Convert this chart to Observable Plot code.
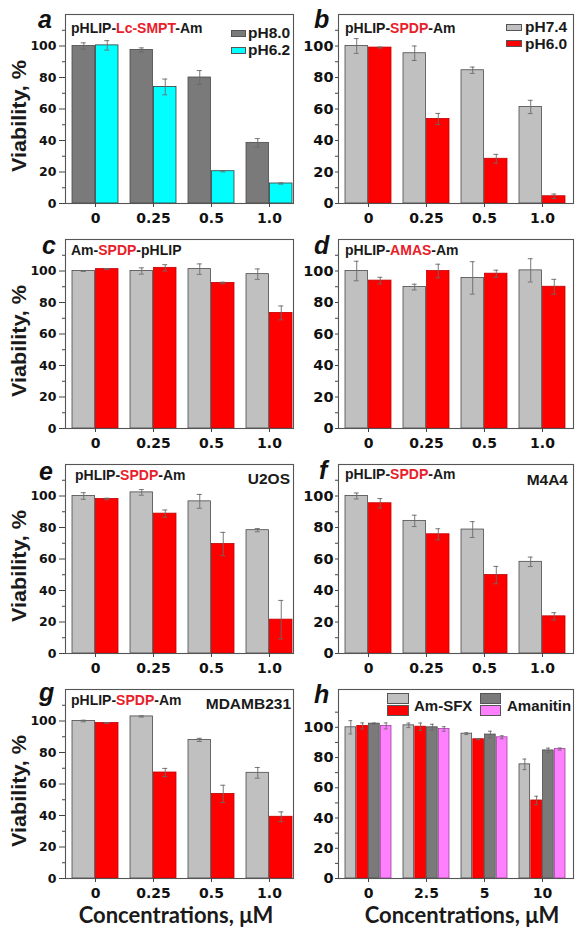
<!DOCTYPE html>
<html>
<head>
<meta charset="utf-8">
<script src="https://cdn.jsdelivr.net/npm/d3@7"></script>
<script src="https://cdn.jsdelivr.net/npm/@observablehq/plot@0.6"></script>
<style>
  body { margin: 0; background: #fff; }
  #fig { position: relative; width: 586px; height: 938px; overflow: hidden; background: #fff; }
  .ov { position: absolute; white-space: nowrap; line-height: 1; font-family: "Liberation Sans", Arial, sans-serif; font-weight: bold; color: #1a1a1a; }
  .sw { position: absolute; box-sizing: border-box; border: 1px solid #555; }
</style>
</head>
<body>
<div id="fig"></div>
<script>
// ---------------- data ----------------
const concA = ["0", "0.25", "0.5", "1.0"];
const concH = ["0", "2.5", "5", "10"];

// a: pHLIP-Lc-SMPT-Am
const aHigh = [100, 97.5, 80, 38.5];
const aHighErr = [2, 1.3, 4.4, 2.7];
const aLow = [100.4, 74, 20.5, 12.7];
const aLowErr = [3, 5, 0.4, 0.4];
// b: pHLIP-SPDP-Am
const bHigh = [100, 95.4, 84.6, 61.3];
const bHighErr = [4.7, 4.6, 2, 4.2];
const bLow = [99, 53.7, 28.4, 4.6];
const bLowErr = [0.3, 3.5, 2.8, 1.4];
// c: Am-SPDP-pHLIP
const cHigh = [100, 100, 101.2, 98];
const cHighErr = [0.3, 2, 3.3, 3.3];
const cLow = [101.2, 102, 92.4, 73.4];
const cLowErr = [0.3, 2, 0.5, 4.4];
// d: pHLIP-AMAS-Am
const dHigh = [100, 89.8, 95.6, 100.4];
const dHighErr = [6.2, 1.8, 10.3, 7.4];
const dLow = [93.9, 100, 98.3, 90];
const dLowErr = [2.1, 4.3, 2.2, 4.7];
// e: U2OS
const eHigh = [100, 102.3, 96.6, 78.3];
const eHighErr = [2.1, 1.8, 4.4, 1];
const eLow = [98.1, 88.8, 69.5, 21.5];
const eLowErr = [0.5, 2.3, 7.4, 12.2];
// f: M4A4
const fHigh = [100, 84.2, 78.7, 58.2];
const fHighErr = [1.9, 3.6, 5, 3];
const fLow = [95.4, 75.7, 49.8, 23.6];
const fLowErr = [3, 3.5, 5.5, 2.3];
// g: MDAMB231
const gHigh = [100, 102.9, 88, 67.1];
const gHighErr = [0.5, 0.4, 1, 3.4];
const gLow = [98.7, 67.3, 53.7, 39.2];
const gLowErr = [0.3, 2.6, 5.5, 3.1];
// h: Am-SFX vs Amanitin
const hSfxHigh = [100, 101.3, 95.8, 75.5];
const hSfxHighErr = [4.4, 1.5, 0.6, 3.5];
const hSfxLow = [100.9, 100.4, 92.1, 51.6];
const hSfxLowErr = [2, 2.4, 0.3, 2.8];
const hAmaHigh = [102.4, 100, 95.2, 84.7];
const hAmaHighErr = [0.5, 2, 2.2, 1.5];
const hAmaLow = [100.9, 98.9, 93.4, 85.6];
const hAmaLowErr = [2, 1.5, 1, 0.7];

const yMajor = [0, 20, 40, 60, 80, 100];
const yMinor = [10, 30, 50, 70, 90, 110];

const letters = ["a", "b", "c", "d", "e", "f", "g", "h"];
const titles = [
  ["pHLIP-", "Lc-SMPT", "-Am"],
  ["pHLIP-", "SPDP", "-Am"],
  ["Am-", "SPDP", "-pHLIP"],
  ["pHLIP-", "AMAS", "-Am"],
  ["pHLIP-", "SPDP", "-Am"],
  ["pHLIP-", "SPDP", "-Am"],
  ["pHLIP-", "SPDP", "-Am"],
  null
];
const cellLines = [null, null, null, null, "U2OS", "M4A4", "MDAMB231", null];
const legendA = ["pH8.0", "pH6.2"];
const legendB = ["pH7.4", "pH6.0"];
const legendH = ["Am-SFX", "Amanitin"];
const yLabel = "Viability, %";
const xLabel = "Concentrations, \u03BCM";

// ---------------- styles ----------------
const DARK = "#7a7a7a", LIGHT = "#c0c0c0", RED = "#ff0000", CYAN = "#00ffff", PINK = "#ff80ff";
const TITLE_RED = "#e8202a";

const fig = document.getElementById("fig");
const rowTop = [0, 225, 450, 675];
const colLeft = [0, 290];

function panel(idx, groups, series, yMax) {
  const col = idx % 2, row = Math.floor(idx / 2);
  const last = row === 3;
  const height = last ? 263 : 225;
  const marginBottom = last ? 60 : 22;
  const marginLeft = col === 0 ? 65 : 48;
  const marginRight = col === 0 ? 3 : 13;
  const range = col === 0 ? [71, 294] : [53, 277];
  const bw = d3.scaleBand().domain(groups).range(range).paddingInner(0.2).paddingOuter(0).bandwidth();
  const n = series.length;
  const sub = bw / n;
  const cap = n > 2 ? 5 : 6;
  const marks = [];
  series.forEach((s, i) => {
    const rows = groups.map((g, j) => ({g, v: s.v[j], e: s.e[j]}));
    marks.push(Plot.barY(rows, {x: "g", y: "v", fill: s.fill, stroke: s.stroke, strokeWidth: 0.8,
      insetLeft: i * sub, insetRight: (n - 1 - i) * sub}));
  });
  series.forEach((s, i) => {
    const rows = groups.map((g, j) => ({g, v: s.v[j], e: s.e[j]}));
    const cx = (i + 0.5) * sub;
    marks.push(Plot.ruleX(rows, {x: "g", y1: d => d.v - d.e, y2: d => d.v + d.e, dx: cx - bw / 2,
      stroke: "#6a6a6a", strokeWidth: 0.9}));
    for (const sign of [1, -1]) {
      marks.push(Plot.tickY(rows, {x: "g", y: d => d.v + sign * d.e, insetLeft: cx - cap / 2,
        insetRight: bw - cx - cap / 2, stroke: "#6a6a6a", strokeWidth: 0.9}));
    }
  });
  marks.push(Plot.frame({stroke: "#555", strokeWidth: 1.1}));
  marks.push(Plot.axisY(yMajor, {tickSize: col === 0 ? 6 : 3, tickPadding: col === 0 ? 3 : 2,
    fontSize: col === 0 ? 12.5 : 14.5, stroke: "#444", label: null}));
  marks.push(Plot.axisY(yMinor, {tickSize: 3, stroke: "#444", fill: "none", label: null}));
  marks.push(Plot.axisX({tickSize: 4, tickPadding: 6, fontSize: 14, stroke: "#444", label: null}));

  const svg = Plot.plot({
    width: 296, height, marginTop: 14, marginBottom, marginLeft, marginRight,
    x: {type: "band", domain: groups, range, paddingInner: 0.2, paddingOuter: 0},
    y: {domain: [0, yMax]},
    style: {fontFamily: "DejaVu Sans", fontWeight: "bold", color: "#111", background: "transparent", overflow: "visible"},
    marks
  });
  svg.style.position = "absolute";
  svg.style.left = colLeft[col] + "px";
  svg.style.top = rowTop[row] + "px";
  fig.appendChild(svg);
}

function text(str, opts) {
  const el = document.createElement("div");
  el.className = "ov";
  el.textContent = str;
  Object.assign(el.style, opts);
  fig.appendChild(el);
  return el;
}
function swatch(x, y, w, h, color) {
  const el = document.createElement("div");
  el.className = "sw";
  Object.assign(el.style, {left: x + "px", top: y + "px", width: w + "px", height: h + "px", background: color});
  fig.appendChild(el);
}

const two = (hi, hiE, lo, loE, hiFill, loFill) => [
  {v: hi, e: hiE, fill: hiFill, stroke: "#4a4a4a"},
  {v: lo, e: loE, fill: loFill, stroke: loFill === RED ? "#c00000" : "#3a3a3a"}
];

panel(0, concA, two(aHigh, aHighErr, aLow, aLowErr, DARK, CYAN), 120);
panel(1, concA, two(bHigh, bHighErr, bLow, bLowErr, LIGHT, RED), 120);
panel(2, concA, two(cHigh, cHighErr, cLow, cLowErr, LIGHT, RED), 120);
panel(3, concA, two(dHigh, dHighErr, dLow, dLowErr, LIGHT, RED), 120);
panel(4, concA, two(eHigh, eHighErr, eLow, eLowErr, LIGHT, RED), 120);
panel(5, concA, two(fHigh, fHighErr, fLow, fLowErr, LIGHT, RED), 120);
panel(6, concA, two(gHigh, gHighErr, gLow, gLowErr, LIGHT, RED), 120);
panel(7, concH, [
  {v: hSfxHigh, e: hSfxHighErr, fill: LIGHT, stroke: "#4a4a4a"},
  {v: hSfxLow, e: hSfxLowErr, fill: RED, stroke: "#c00000"},
  {v: hAmaHigh, e: hAmaHighErr, fill: DARK, stroke: "#4a4a4a"},
  {v: hAmaLow, e: hAmaLowErr, fill: PINK, stroke: "#a040a0"}
], 125);

// ---------------- overlays ----------------
const letterPos = [[38, 28], [314, 28], [42, 254], [314, 254], [39, 480], [319, 479], [39, 701], [314, 703]];
letters.forEach((l, i) => {
  const fs = 25;
  text(l, {left: letterPos[i][0] + "px", top: (letterPos[i][1] - 0.85 * fs) + "px", fontSize: fs + "px", fontStyle: "italic", color: "#111"});
});

const titlePos = [[71, 28], [345, 27.5], [71, 250], [345, 250], [75, 475], [345, 474], [71, 699.5]];
titles.forEach((t, i) => {
  if (!t) return;
  const el = text("", {left: titlePos[i][0] + "px", top: titlePos[i][1] + "px", fontSize: "14px", transform: "translateY(-50%)"});
  t.forEach((part, k) => {
    const s = document.createElement("span");
    s.textContent = part;
    if (k === 1) s.style.color = TITLE_RED;
    el.appendChild(s);
  });
});

const cellPos = [null, null, null, null, [290, 479], [568, 480], [291, 703.5], null];
cellLines.forEach((c, i) => {
  if (!c) return;
  text(c, {right: (586 - cellPos[i][0]) + "px", top: cellPos[i][1] + "px", fontSize: "15.5px", transform: "translateY(-50%)"});
});

// legends
swatch(231, 30, 15, 7, DARK); swatch(231, 47, 15, 7, CYAN);
text(legendA[0], {left: "248px", top: "33px", fontSize: "15.5px", transform: "translateY(-50%)"});
text(legendA[1], {left: "248px", top: "50px", fontSize: "15.5px", transform: "translateY(-50%)"});
swatch(506, 24, 16, 7, LIGHT); swatch(506, 40, 16, 7, RED);
text(legendB[0], {left: "525px", top: "27px", fontSize: "15.5px", transform: "translateY(-50%)"});
text(legendB[1], {left: "525px", top: "43.5px", fontSize: "15.5px", transform: "translateY(-50%)"});
swatch(387, 693, 22, 11, LIGHT); swatch(387, 705, 22, 11, RED);
swatch(480, 693, 21, 11, DARK); swatch(480, 705, 21, 11, PINK);
text(legendH[0], {left: "414px", top: "705px", fontSize: "15px", transform: "translateY(-50%)"});
text(legendH[1], {left: "507px", top: "705px", fontSize: "15px", transform: "translateY(-50%)"});

// axis titles
[0, 1, 2, 3].forEach(r => {
  const cy = rowTop[r] + 14 + 94.5 + 7;
  text(yLabel, {left: "19px", top: cy + "px", fontSize: "20px", transform: "translate(-50%, -50%) rotate(-90deg) scaleX(1.08)"});
});
[176, 462].forEach(cx => {
  text(xLabel, {left: cx + "px", top: "915px", fontSize: "22px", fontFamily: "Lato, 'Open Sans', sans-serif", transform: "translate(-50%, -50%)"});
});
</script>
</body>
</html>
